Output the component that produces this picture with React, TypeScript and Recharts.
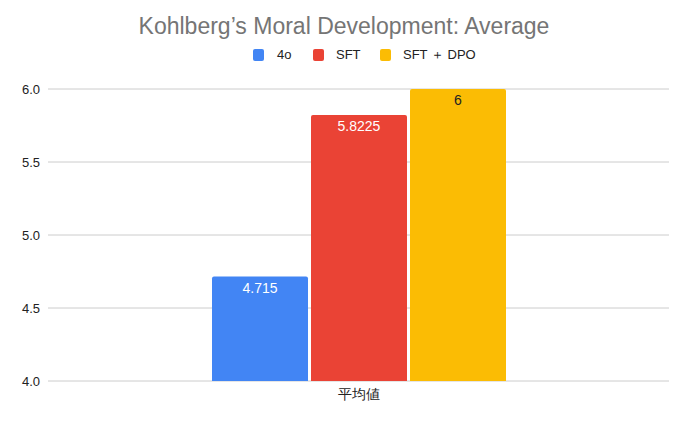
import React from "react";
import { BarChart, Bar, XAxis, YAxis, CartesianGrid, LabelList } from "recharts";

const categories = ["平均値"];
const seriesNames = ["4o", "SFT", "SFT ＋ DPO"];
const seriesValues = [[4.715], [5.8225], [6]];
const seriesColors = ["#4285f4", "#ea4335", "#fbbc04"];
const labelColors = ["#ffffff", "#ffffff", "#222222"];
const yTicks = [4.0, 4.5, 5.0, 5.5, 6.0];

const data = categories.map((name, i) => {
  const row: Record<string, string | number> = { name };
  seriesNames.forEach((s, j) => {
    row[s] = seriesValues[j][i];
  });
  return row;
});

const FONT = "'Liberation Sans', Arial, sans-serif";
// legend layout: [swatch left, text left]
const legendPos = [
  [253, 277],
  [313, 336],
  [380, 403],
];

export default function App() {
  return (
    <div
      style={{
        position: "absolute",
        left: 0,
        top: 0,
        width: 688,
        height: 423,
        background: "#fff",
        fontFamily: FONT,
      }}
    >
      <div
        style={{
          position: "absolute",
          top: 13,
          left: 0,
          width: 688,
          textAlign: "center",
          fontSize: 23,
          color: "#757575",
        }}
      >
        Kohlberg’s Moral Development: Average
      </div>
      {seriesNames.map((s, i) => (
        <React.Fragment key={s}>
          <span
            style={{
              position: "absolute",
              left: legendPos[i][0],
              top: 49,
              width: 11,
              height: 12,
              borderRadius: 2,
              background: seriesColors[i],
            }}
          />
          <span
            style={{
              position: "absolute",
              left: legendPos[i][1],
              top: 47,
              fontSize: 13,
              lineHeight: "16px",
              color: "#222",
              whiteSpace: "nowrap",
            }}
          >
            {s}
          </span>
        </React.Fragment>
      ))}
      <BarChart
        width={688}
        height={423}
        data={data}
        margin={{ top: 89, right: 19, left: 0, bottom: 12 }}
        barSize={96}
        barGap={3}
      >
        <CartesianGrid vertical={false} stroke="#cccccc" />
        <XAxis
          dataKey="name"
          axisLine={false}
          tickLine={false}
          tick={{ fontSize: 14, fill: "#222", fontFamily: FONT }}
        />
        <YAxis
          domain={[4, 6]}
          ticks={yTicks}
          width={48}
          axisLine={false}
          tickLine={false}
          tickFormatter={(v: number) => v.toFixed(1)}
          tick={{ fontSize: 13, fill: "#222", fontFamily: FONT }}
        />
        {seriesNames.map((s, i) => (
          <Bar
            key={s}
            dataKey={s}
            fill={seriesColors[i]}
            radius={[2, 2, 0, 0]}
            isAnimationActive={false}
          >
            <LabelList
              dataKey={s}
              position="insideTop"
              offset={6}
              style={{ fontSize: 14, fill: labelColors[i], fontFamily: FONT }}
            />
          </Bar>
        ))}
      </BarChart>
    </div>
  );
}
